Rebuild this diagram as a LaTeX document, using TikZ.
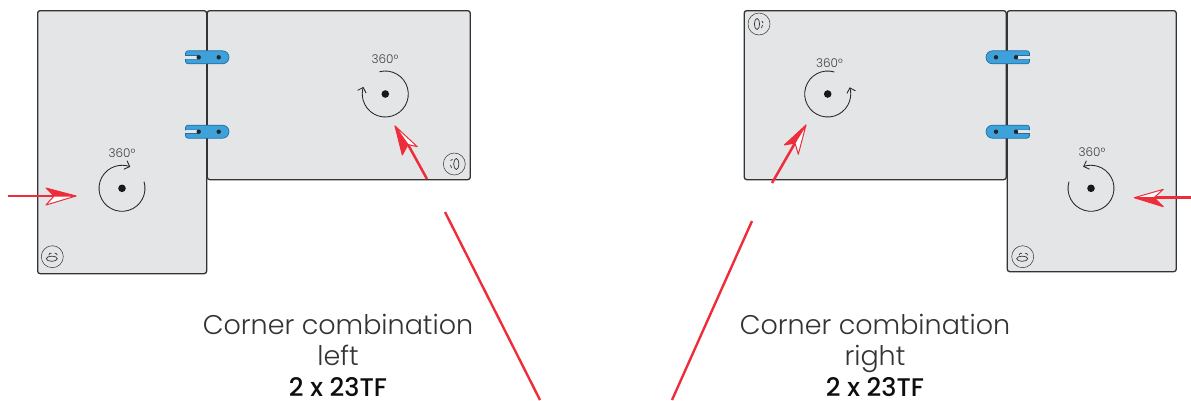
\documentclass[tikz,border=0pt]{standalone}
\usepackage{fontspec}
\setmainfont{Poppins Light}[BoldFont={Poppins Medium}]
\usetikzlibrary{arrows.meta}
\definecolor{panelgrey}{HTML}{E4E5E7}
\definecolor{edgegrey}{HTML}{333335}
\definecolor{hingeblue}{HTML}{3FA1D9}
\definecolor{hingeedge}{HTML}{1E6FA8}
\definecolor{redline}{HTML}{EE2D3B}
\tikzset{
  panel/.style={draw=edgegrey,line width=1.3pt,fill=panelgrey,rounded corners=2.5pt,inner sep=0pt,anchor=north west},
  hinge/.style={draw=hingeedge,line width=.7pt,fill=hingeblue},
  hole/.style={circle,fill=black!85,inner sep=0pt,minimum size=4.4pt},
  pivot/.style={circle,fill=black!90,inner sep=0pt,minimum size=7.6pt},
  turn/.style={draw=black!85,line width=.85pt,-{Straight Barb[length=4.5pt,width=9pt]}},
  degree/.style={font=\fontsize{12}{12}\selectfont,text=black!75,inner sep=0pt},
  caption/.style={font=\fontsize{27}{31}\selectfont,text=black!80,align=center,anchor=base,inner sep=0pt},
  badge/.style={circle,draw=black!80,line width=.5pt,minimum size=22pt,inner sep=0pt},
  scrib/.style={draw=black!80,line width=.7pt},
  redl/.style={draw=redline,line width=2.5pt},
  longred/.style={draw=redline,line width=2.4pt},
  redf/.style={fill=redline,draw=redline,line width=1pt,line join=round},
  whitef/.style={fill=white,draw=redline,line width=1pt,line join=round}
}
\newcommand{\redarrow}[5]{%
  \draw[redl] (#1) -- (#5);
  \filldraw[redf] (#2) -- (#3) -- (#5) -- cycle;
  \filldraw[whitef] (#2) -- (#4) -- (#5) -- cycle;
}
\newcommand{\turncircle}[3]{%
  \draw[turn] ([shift={(#2:23pt)}]#1) arc[start angle=#2,end angle=#3,radius=23pt];
}
\begin{document}
\begin{tikzpicture}[x=1pt,y=-1pt]
\useasboundingbox (0,0) rectangle (1191,400);
% panels
\node[panel,minimum width=169pt,minimum height=263pt] (lt) at (37,10) {};
\node[panel,minimum width=263pt,minimum height=169pt] (lw) at (206.6,10) {};
\node[panel,minimum width=262pt,minimum height=169pt] (rw) at (743.6,10) {};
\node[panel,minimum width=169pt,minimum height=261pt] (rt) at (1006.6,10) {};
% hinges
\foreach \n/\y in {a/57.3,b/131.7}{
  \draw[hinge] (185.5,\y-1.8) -- (185.5,\y-4) arc[start angle=180,end angle=90,radius=2.5pt] -- (222.5,\y-6.5)
     arc[start angle=90,end angle=-90,radius=6.5pt] -- (188,\y+6.5) arc[start angle=270,end angle=180,radius=2.5pt] -- (185.5,\y+1.8) -- (198,\y+1.8) -- (198,\y-1.8) -- cycle;
  \fill[white!90!black] (186,\y-1.5) rectangle (198,\y+1.5);
  \node[hole] (lh\n1) at (198.7,\y) {};
  \node[hole] (lh\n2) at (218.7,\y) {};
  \draw[hinge] (1029.5,\y-1.8) -- (1029.5,\y-4) arc[start angle=0,end angle=90,radius=2.5pt] -- (992.5,\y-6.5)
     arc[start angle=90,end angle=270,radius=6.5pt] -- (1027,\y+6.5) arc[start angle=270,end angle=360,radius=2.5pt] -- (1029.5,\y+1.8) -- (1016,\y+1.8) -- (1016,\y-1.8) -- cycle;
  \fill[white!90!black] (1016,\y-1.5) rectangle (1029,\y+1.5);
  \node[hole] (rh\n1) at (996,\y) {};
  \node[hole] (rh\n2) at (1016,\y) {};
}
% pivots
\node[pivot] (p1) at (122,188.3) {};
\node[pivot] (p2) at (385.3,94) {};
\node[pivot] (p3) at (827.7,94) {};
\node[pivot] (p4) at (1091,188.3) {};
\turncircle{p1}{17}{-291}
\turncircle{p2}{105}{-198}
\turncircle{p3}{73}{377}
\turncircle{p4}{163}{470}
\node[degree] (d1) at (122,153) {360°};
\node[degree] (d2) at (385,59) {360°};
\node[degree] (d3) at (829.5,63) {360°};
\node[degree] (d4) at (1092,152) {360°};
% badges
\node[badge] (b1) at (52.3,256.7) {};
\node[badge] (b2) at (454.3,164) {};
\node[badge] (b3) at (759,24) {};
\node[badge] (b4) at (1022.7,256.7) {};
\foreach \b in {b1,b4}{
  \draw[scrib] ([shift={(-.5,2)}]\b.center) ellipse[x radius=5.5pt,y radius=2.6pt];
  \draw[scrib] ([shift={(-3.5,-1.5)}]\b.center) -- ++(1,-2) -- ++(1.5,.3);
  \draw[scrib] ([shift={(2.5,-3.5)}]\b.center) to[bend left=40] ++(2.5,2);
}
\draw[scrib] ([shift={(2,0)}]b2.center) ellipse[x radius=2.6pt,y radius=5.5pt];
\draw[scrib] ([shift={(-3.8,-3.5)}]b2.center) -- ++(2,-1);
\draw[scrib] ([shift={(-3.8,1)}]b2.center) -- ++(1,3);
\draw[scrib] ([shift={(-2,0)}]b3.center) ellipse[x radius=2.6pt,y radius=5.5pt];
\draw[scrib] ([shift={(3,-3)}]b3.center) -- ++(1,2);
\draw[scrib] ([shift={(3.5,1)}]b3.center) -- ++(-1,3);
% red arrows
\coordinate (t1) at (8,196); \coordinate (a1) at (76,196); \coordinate (c1) at (46,188); \coordinate (w1) at (46,205); \coordinate (n1) at (54,196);
\coordinate (t2) at (427,179); \coordinate (a2) at (395,126); \coordinate (c2) at (402.3,155); \coordinate (w2) at (417.3,146.7); \coordinate (n2) at (408,144.5);
\coordinate (t3) at (772,183); \coordinate (a3) at (806,125); \coordinate (c3) at (784.3,145); \coordinate (w3) at (798.3,154.3); \coordinate (n3) at (795,143);
\coordinate (t4) at (1191,197.7); \coordinate (a4) at (1134.3,197.7); \coordinate (c4) at (1163.3,206.7); \coordinate (w4) at (1163.3,189.3); \coordinate (n4) at (1154,197.7);
\redarrow{t1}{a1}{c1}{w1}{n1}
\redarrow{t2}{a2}{c2}{w2}{n2}
\redarrow{t3}{a3}{c3}{w3}{n3}
\redarrow{t4}{a4}{c4}{w4}{n4}
% long red lines
\coordinate (s1) at (445,212); \coordinate (e1) at (540,400);
\coordinate (s2) at (752,221); \coordinate (e2) at (672,400);
\draw[longred] (s1) -- (e1);
\draw[longred] (s2) -- (e2);
% captions
\node[caption] (cap1) at (338,396) {Corner combination\\left\\\textbf{\fontsize{25.5}{31}\selectfont\color{black!95} 2 x 23TF}};
\node[caption] (cap2) at (875,396) {Corner combination\\right\\\textbf{\fontsize{25.5}{31}\selectfont\color{black!95} 2 x 23TF}};
\end{tikzpicture}
\end{document}
